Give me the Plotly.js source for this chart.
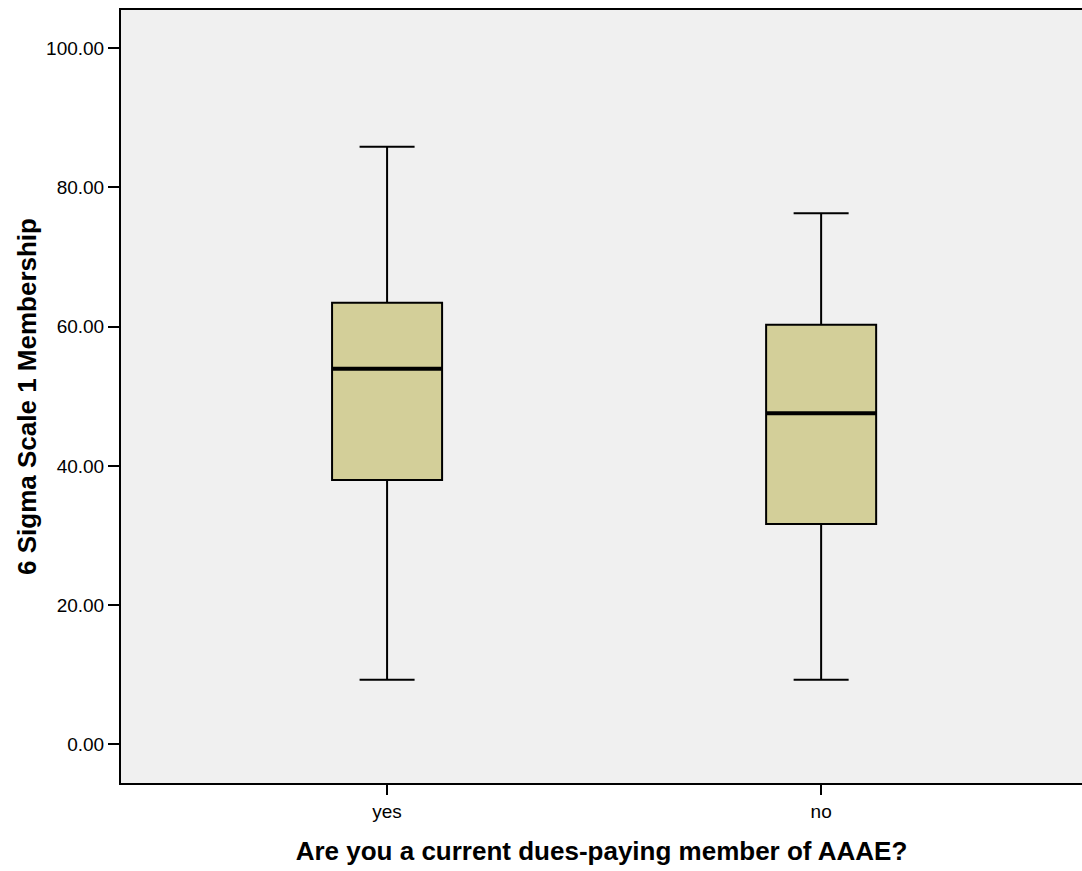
<!DOCTYPE html>
<html>
<head>
<meta charset="utf-8">
<script src="https://cdn.plot.ly/plotly-3.0.1.min.js"></script>
<style>html,body{margin:0;padding:0;background:#fff;}</style>
</head>
<body>
<div id="chart" style="width:1082px;height:871px;"></div>
<script>
// Data
const categories = ["yes", "no"];
const lowerWhisker = [9.28, 9.28];
const q1Values = [37.97, 31.65];
const medianValues = [53.97, 47.56];
const q3Values = [63.45, 60.29];
const upperWhisker = [85.86, 76.29];
const yTickValues = [0, 20, 40, 60, 80, 100];
const yTickLabels = ["0.00", "20.00", "40.00", "60.00", "80.00", "100.00"];

const positions = categories.map((c, i) => i);
const boxWidth = 0.2535;

const boxTrace = {
  type: "box",
  x: positions,
  q1: q1Values,
  median: medianValues,
  q3: q3Values,
  lowerfence: lowerWhisker,
  upperfence: upperWhisker,
  width: boxWidth,
  whiskerwidth: 0.5,
  fillcolor: "#D3CF99",
  line: {color: "#000000", width: 2},
  hoverinfo: "skip",
  showlegend: false
};

const medianTraces = positions.map((p, i) => ({
  type: "scatter",
  mode: "lines",
  x: [p - boxWidth / 2, p + boxWidth / 2],
  y: [medianValues[i], medianValues[i]],
  line: {color: "#000000", width: 4},
  hoverinfo: "skip",
  showlegend: false
}));

const font = "Arial, 'Liberation Sans', sans-serif";

const layout = {
  width: 1082,
  height: 871,
  margin: {l: 121, r: 0, t: 10, b: 88},
  paper_bgcolor: "#ffffff",
  plot_bgcolor: "#F0F0F0",
  showlegend: false,
  xaxis: {
    range: [-0.613, 1.601],
    tickvals: positions,
    ticktext: categories,
    showgrid: false,
    zeroline: false,
    showline: true,
    mirror: true,
    linecolor: "#000000",
    linewidth: 2,
    ticks: "outside",
    ticklen: 10,
    tickwidth: 2,
    tickcolor: "#000000",
    tickfont: {family: font, size: 19, color: "#000000"},
    title: {
      text: "Are you a current dues-paying member of AAAE?",
      font: {family: font, size: 26, color: "#000000", weight: "bold"},
      standoff: 21
    },
    fixedrange: true
  },
  yaxis: {
    range: [-5.56, 105.5],
    tickvals: yTickValues,
    ticktext: yTickLabels,
    showgrid: false,
    zeroline: false,
    showline: true,
    linecolor: "#000000",
    linewidth: 2,
    ticks: "outside",
    ticklen: 11,
    tickwidth: 2,
    tickcolor: "#000000",
    tickfont: {family: font, size: 19, color: "#000000"},
    title: {
      text: "6 Sigma Scale 1 Membership",
      font: {family: font, size: 26, color: "#000000", weight: "bold"},
      standoff: 2
    },
    fixedrange: true
  }
};

Plotly.newPlot("chart", [boxTrace, ...medianTraces], layout, {displayModeBar: false, staticPlot: true});
</script>
</body>
</html>
